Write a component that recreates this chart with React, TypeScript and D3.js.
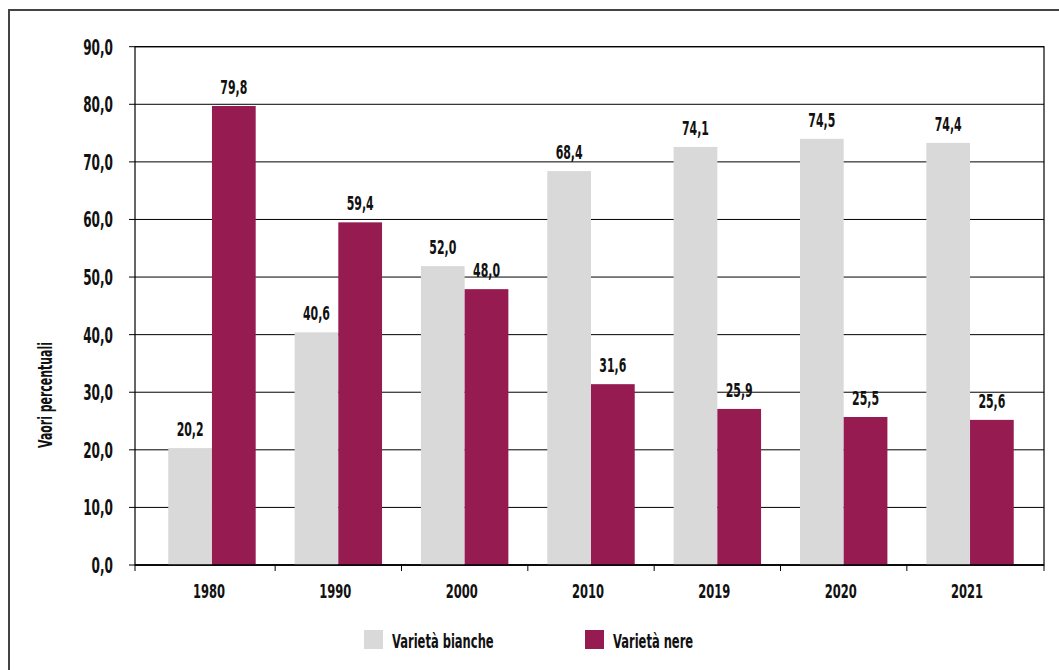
import * as d3 from "d3";

const categories = ["1980", "1990", "2000", "2010", "2019", "2020", "2021"];
// bar heights as drawn
const bianche = [20.3, 40.4, 51.9, 68.4, 72.6, 74.0, 73.3];
const nere = [79.7, 59.5, 47.9, 31.4, 27.1, 25.7, 25.2];
// printed data labels
const biancheLabels = ["20,2", "40,6", "52,0", "68,4", "74,1", "74,5", "74,4"];
const nereLabels = ["79,8", "59,4", "48,0", "31,6", "25,9", "25,5", "25,6"];
const yTicks = [0, 10, 20, 30, 40, 50, 60, 70, 80, 90];
const seriesNames = ["Varietà bianche", "Varietà nere"];
const colors = ["#d9d9d9", "#951b51"];

const W = 1059;
const H = 670;
const FONT = "'DejaVu Sans Condensed', 'DejaVu Sans', sans-serif";
const SQ = 0.64; // horizontal squeeze to mimic a condensed face

function Txt({
  x,
  y,
  size,
  anchor = "middle",
  rotate = 0,
  children,
}: {
  x: number;
  y: number;
  size: number;
  anchor?: string;
  rotate?: number;
  children: React.ReactNode;
}) {
  return (
    <text
      transform={`translate(${x},${y}) rotate(${rotate}) scale(${SQ},1)`}
      textAnchor={anchor}
      fontSize={size}
      fontWeight="bold"
      fill="#111"
    >
      {children}
    </text>
  );
}

export default function App() {
  const plot = { left: 135, right: 1044, top: 46.7, bottom: 565 };
  const x = d3.scaleBand<string>().domain(categories).range([148.8, 1033.2]).padding(0);
  const y = d3.scaleLinear().domain([0, 90]).range([plot.bottom, plot.top]);
  const bw = x.bandwidth() * 0.346;
  const fmt = (v: number) => d3.format(".1f")(v).replace(".", ",");
  const boundaries = categories.slice(1).map((c) => x(c)!);
  const xTicks = [plot.left, ...boundaries, plot.right];

  return (
    <div style={{ position: "absolute", left: 0, top: 0 }}>
      <svg width={W} height={H} viewBox={`0 0 ${W} ${H}`} style={{ display: "block", fontFamily: FONT }}>
        <rect x={0} y={0} width={W} height={H} fill="#fff" />
        <rect x={9} y={10} width={W + 20} height={H + 20} fill="none" stroke="#444" strokeWidth={2} />

        {yTicks.map((t) => (
          <g key={t}>
            <line x1={plot.left - 6} x2={plot.right} y1={y(t)} y2={y(t)} stroke="#000" strokeWidth={1} />
            <Txt x={113} y={y(t) + 8} size={21} anchor="end">
              {fmt(t)}
            </Txt>
          </g>
        ))}
        <rect
          x={plot.left}
          y={plot.top}
          width={plot.right - plot.left}
          height={plot.bottom - plot.top}
          fill="none"
          stroke="#000"
          strokeWidth={1.2}
        />

        {categories.map((c, i) => {
          const cx = x(c)! + x.bandwidth() / 2;
          return (
            <g key={c}>
              <rect x={cx - bw} y={y(bianche[i])} width={bw} height={y(0) - y(bianche[i])} fill={colors[0]} />
              <rect x={cx} y={y(nere[i])} width={bw} height={y(0) - y(nere[i])} fill={colors[1]} />
              <Txt x={cx - bw / 2} y={y(bianche[i]) - 12} size={19}>
                {biancheLabels[i]}
              </Txt>
              <Txt x={cx + bw / 2} y={y(nere[i]) - 12} size={19}>
                {nereLabels[i]}
              </Txt>
              <Txt x={cx - 3} y={598} size={20}>
                {c}
              </Txt>
            </g>
          );
        })}

        <line x1={plot.left} x2={plot.right} y1={plot.bottom} y2={plot.bottom} stroke="#000" strokeWidth={1.5} />
        {xTicks.map((t, i) => (
          <line key={i} x1={t} x2={t} y1={plot.bottom} y2={plot.bottom + 6} stroke="#000" strokeWidth={1} />
        ))}

        <Txt x={52} y={395} size={19} rotate={-90}>
          Vaori percentuali
        </Txt>

        {seriesNames.map((s, i) => {
          const lx = i === 0 ? 364 : 585;
          return (
            <g key={s}>
              <rect x={lx} y={630} width={19} height={19} fill={colors[i]} />
              <Txt x={lx + 28} y={648} size={20} anchor="start">
                {s}
              </Txt>
            </g>
          );
        })}
      </svg>
    </div>
  );
}
